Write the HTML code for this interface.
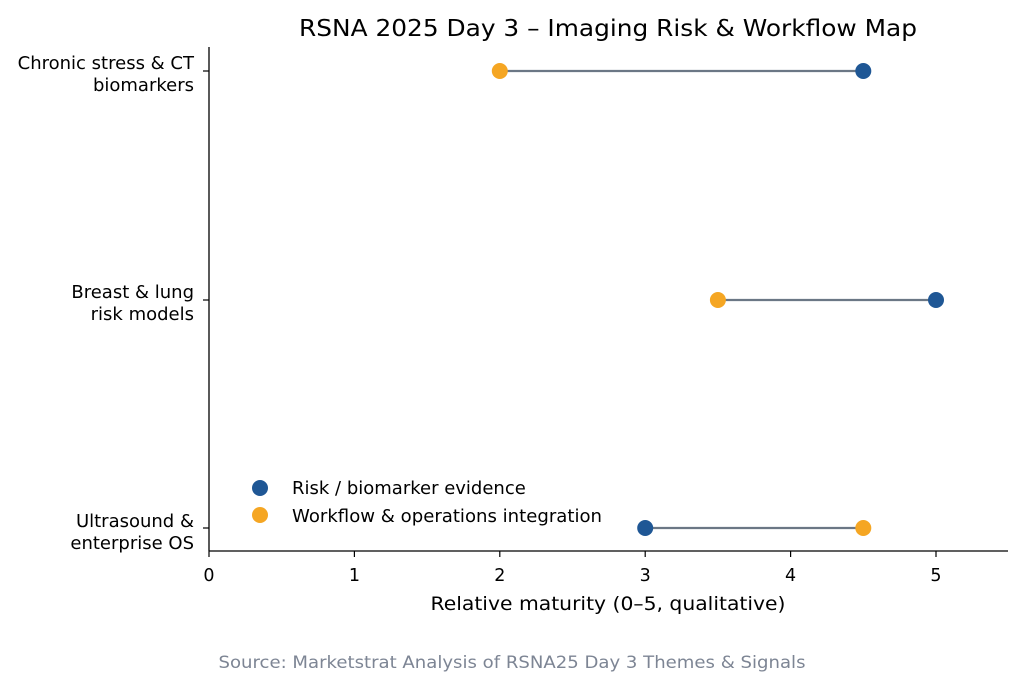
<!DOCTYPE html>
<html><head><meta charset="utf-8"><style>body{margin:0;background:#fff}</style></head>
<body>
<svg width="1024" height="688" xmlns="http://www.w3.org/2000/svg" font-family="DejaVu Sans, sans-serif">
<rect width="1024" height="688" fill="#fff"/>
<text x="608" y="36" font-size="23" text-anchor="middle" fill="#000" textLength="618" lengthAdjust="spacingAndGlyphs">RSNA 2025 Day 3 – Imaging Risk &amp; Workflow Map</text>
<line x1="209" y1="47" x2="209" y2="551" stroke="#000" stroke-width="1.3"/>
<line x1="209" y1="551" x2="1008" y2="551" stroke="#000" stroke-width="1.3"/>
<g stroke="#000" stroke-width="1.2">
<line x1="209" y1="551" x2="209" y2="557"/><line x1="354.4" y1="551" x2="354.4" y2="557"/><line x1="499.8" y1="551" x2="499.8" y2="557"/><line x1="645.2" y1="551" x2="645.2" y2="557"/><line x1="790.6" y1="551" x2="790.6" y2="557"/><line x1="936" y1="551" x2="936" y2="557"/>
<line x1="203" y1="71" x2="209" y2="71"/><line x1="203" y1="300" x2="209" y2="300"/><line x1="203" y1="528" x2="209" y2="528"/>
</g>
<g font-size="17.5" text-anchor="middle" fill="#000">
<text x="209" y="581">0</text><text x="354.4" y="581">1</text><text x="499.8" y="581">2</text><text x="645.2" y="581">3</text><text x="790.6" y="581">4</text><text x="936" y="581">5</text>
</g>
<text x="608" y="610" font-size="19" text-anchor="middle" textLength="355" lengthAdjust="spacingAndGlyphs">Relative maturity (0–5, qualitative)</text>
<g font-size="18" text-anchor="end" fill="#000">
<text x="194" y="69">Chronic stress &amp; CT</text><text x="194" y="91">biomarkers</text>
<text x="194" y="298">Breast &amp; lung</text><text x="194" y="320">risk models</text>
<text x="194" y="527">Ultrasound &amp;</text><text x="194" y="549">enterprise OS</text>
</g>
<g stroke="#6b7785" stroke-width="2.2">
<line x1="499.8" y1="71" x2="863.3" y2="71"/>
<line x1="717.9" y1="300" x2="936" y2="300"/>
<line x1="645.2" y1="528" x2="863.3" y2="528"/>
</g>
<g fill="#1f5795">
<circle cx="863.3" cy="71" r="8"/><circle cx="936" cy="300" r="8"/><circle cx="645.2" cy="528" r="8"/>
<circle cx="260" cy="488" r="8"/>
</g>
<g fill="#f5a623">
<circle cx="499.8" cy="71" r="8"/><circle cx="717.9" cy="300" r="8"/><circle cx="863.3" cy="528" r="8"/>
<circle cx="260" cy="515" r="8"/>
</g>
<text x="292" y="494" font-size="18">Risk / biomarker evidence</text>
<text x="292" y="522" font-size="18" textLength="310" lengthAdjust="spacingAndGlyphs">Workflow &amp; operations integration</text>
<text x="512" y="668" font-size="17" text-anchor="middle" fill="#7d8594" textLength="587" lengthAdjust="spacingAndGlyphs">Source: Marketstrat Analysis of RSNA25 Day 3 Themes &amp; Signals</text>
</svg>
</body></html>
